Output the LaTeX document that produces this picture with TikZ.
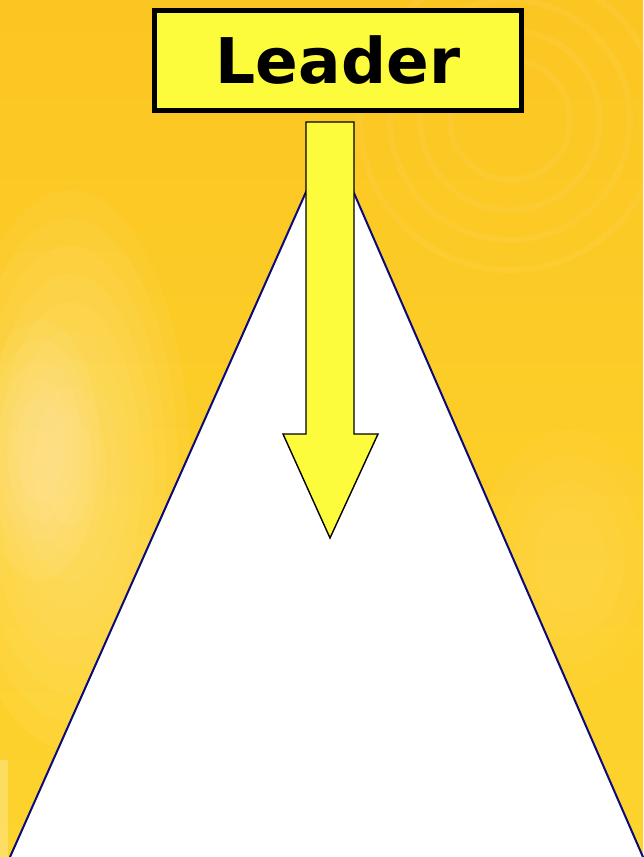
\documentclass[tikz,border=0pt]{standalone}
\usepackage{fontspec}
\setmainfont{DejaVu Sans}
\definecolor{bgtop}{HTML}{FCC622}
\definecolor{bgmid}{HTML}{FDD32E}
\definecolor{bglight}{HTML}{FEEB90}
\definecolor{boxyellow}{HTML}{FCFC3C}
\definecolor{edgenavy}{HTML}{0A0A7A}
\tikzset{
  leaderbox/.style={draw=black, line width=5pt, fill=boxyellow, minimum width=367pt, minimum height=100pt, inner sep=0pt, font=\fontsize{63}{63}\selectfont\bfseries},
  arrowbody/.style={draw=black, line width=1.4pt, fill=boxyellow, line join=miter},
  pyramid/.style={draw=edgenavy, line width=2pt, fill=white, line join=miter},
  glow/.style={fill=bglight, opacity=0.09}
}
\begin{document}
\begin{tikzpicture}[x=1pt,y=-1pt]
  \useasboundingbox (0,0) rectangle (643,857);
  % background
  \shade[top color=bgtop, bottom color=bgmid] (0,0) rectangle (643,857);
  \foreach \s in {1.0,0.9,0.8,0.7,0.6,0.5,0.4,0.3,0.2}{
    \fill[glow] (70,470) ellipse ({120*\s} and {280*\s});
  }
  \foreach \s in {1.0,0.85,0.7,0.55,0.4}{
    \fill[white, opacity=0.05] (40,450) ellipse ({60*\s} and {130*\s});
  }
  \foreach \s in {1.0,0.8,0.6,0.4}{
    \fill[bglight, opacity=0.06] (570,560) ellipse ({90*\s} and {130*\s});
  }
  \fill[white, opacity=0.25] (0,760) rectangle (8,857);
  \foreach \r in {60,90,120,150}{
    \draw[white, opacity=0.05, line width=6pt] (510,120) circle (\r);
  }
  % pyramid
  \coordinate (apex) at (330,138);
  \coordinate (baseL) at (10,857);
  \coordinate (baseR) at (643,857);
  \fill[white] (baseL) -- (apex) -- (baseR) -- cycle;
  \draw[edgenavy, line width=2pt, line join=miter] (baseL) -- (apex) -- (baseR);
  % leader box
  \node[leaderbox] (leader) at (338,60.5) {Leader};
  % arrow
  \draw[arrowbody] (306,122) -- (354,122) -- (354,434) -- (378,434) -- (330,538)
    -- (283,434) -- (306,434) -- cycle;
\end{tikzpicture}
\end{document}
